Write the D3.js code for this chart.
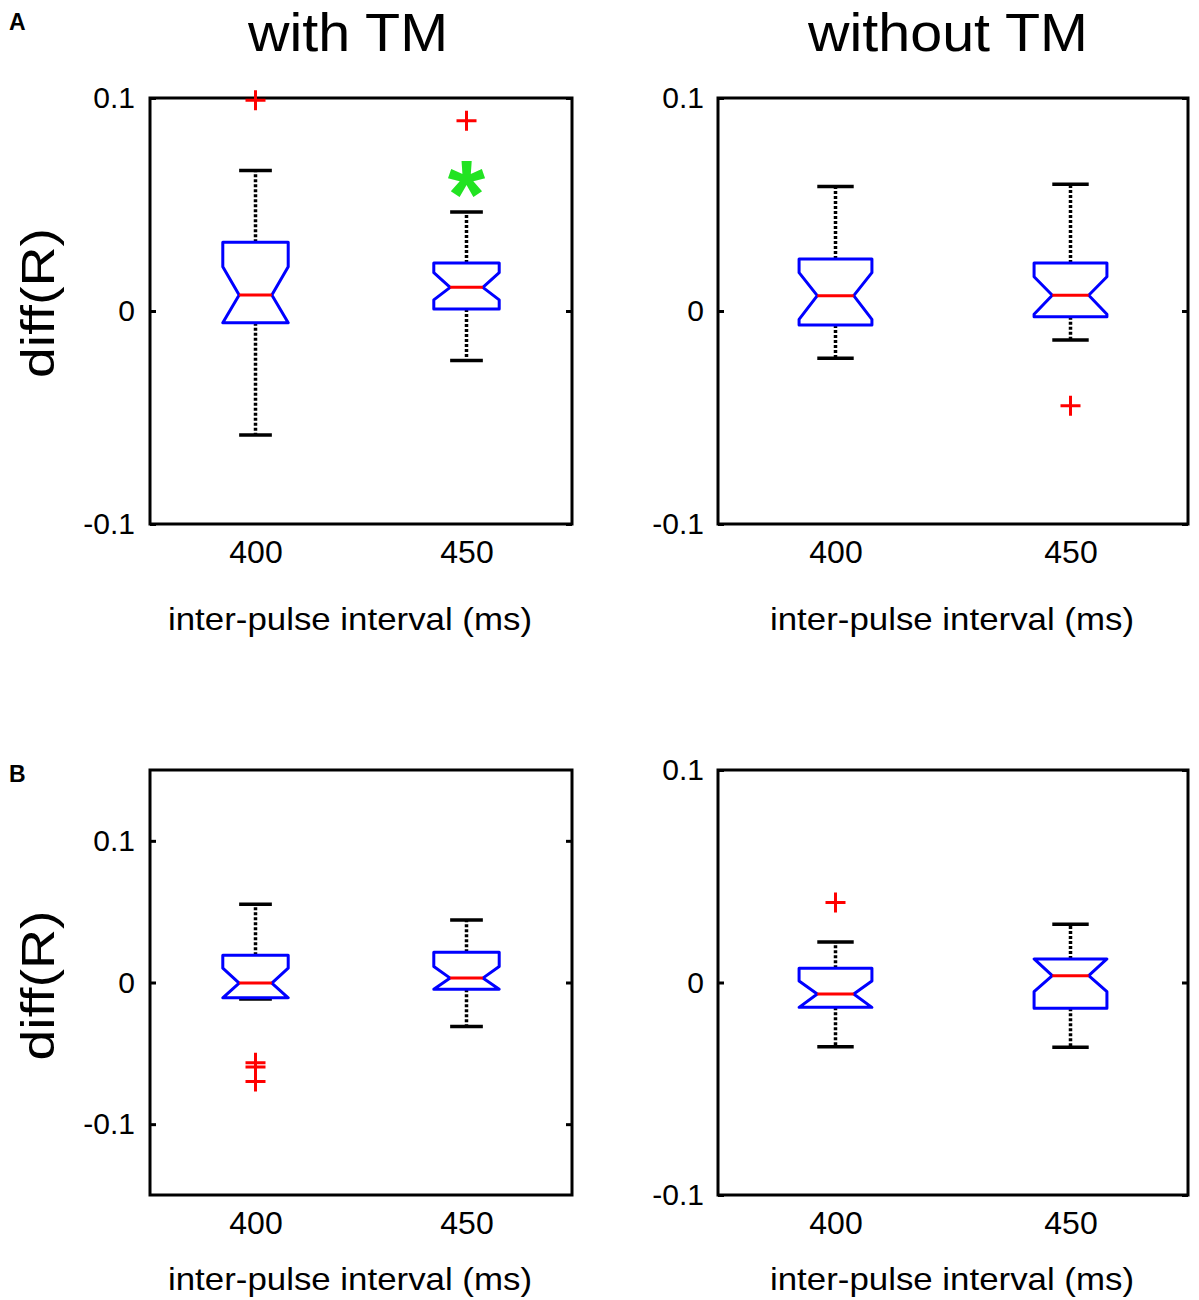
<!DOCTYPE html>
<html>
<head>
<meta charset="utf-8">
<script src="https://cdn.jsdelivr.net/npm/d3@7"></script>
<style>
  body { margin: 0; background: #fff; }
  svg { font-family: "Liberation Sans", Arial, sans-serif; }
</style>
</head>
<body>
<svg width="1199" height="1300"></svg>
<script>
// categories on the x axis
const intervals = ["400", "450"];
const yTicks = [-0.1, 0, 0.1];

// box statistics: whisker lo/hi, quartiles, notch, median, outliers
const boxesAWith = [
  { cat: "400", wlo: -0.0582, q1: -0.0055, nlo: -0.0055, med: 0.0075, nhi: 0.0208, q3: 0.0323, whi: 0.066, out: [0.099] },
  { cat: "450", wlo: -0.0232, q1: 0.0009, nlo: 0.0052, med: 0.0111, nhi: 0.018, q3: 0.0225, whi: 0.0465, out: [0.0893] }
];
const boxesAWithout = [
  { cat: "400", wlo: -0.0222, q1: -0.0066, nlo: -0.0039, med: 0.0072, nhi: 0.018, q3: 0.0244, whi: 0.0584, out: [] },
  { cat: "450", wlo: -0.0136, q1: -0.0027, nlo: -0.0015, med: 0.0074, nhi: 0.0161, q3: 0.0225, whi: 0.0595, out: [-0.0445] }
];
const boxesBWith = [
  { cat: "400", wlo: -0.0117, q1: -0.0108, nlo: -0.0108, med: -0.0004, nhi: 0.0101, q3: 0.0193, whi: 0.0552, out: [-0.0567, -0.0596, -0.0699] },
  { cat: "450", wlo: -0.031, q1: -0.0047, nlo: -0.0047, med: 0.0031, nhi: 0.0113, q3: 0.0214, whi: 0.0442, out: [] }
];
const boxesBWithout = [
  { cat: "400", wlo: -0.0302, q1: -0.0117, nlo: -0.0117, med: -0.0054, nhi: 0.0007, q3: 0.0067, whi: 0.0191, out: [0.0376] },
  { cat: "450", wlo: -0.0305, q1: -0.0121, nlo: -0.0043, med: 0.0032, nhi: 0.0111, q3: 0.0111, whi: 0.0274, out: [] }
];
// significance marker (green star) in panel A, 450 ms
const starsAWith = [{ cat: "450", value: 0.063 }];

const svg = d3.select("svg");

const panels = [
  { boxes: boxesAWith, stars: starsAWith, left: 150, right: 572, top: 98, bottom: 524, domain: [-0.1, 0.1],
    title: "with TM", titleX: 348, ylabel: true, labelX: 350, labelGap: 106, tickPad: 15 },
  { boxes: boxesAWithout, stars: [], left: 718, right: 1188, top: 98, bottom: 524, domain: [-0.1, 0.1],
    title: "without TM", titleX: 948, ylabel: false, labelX: 952, labelGap: 106, tickPad: 14 },
  { boxes: boxesBWith, stars: [], left: 150, right: 572, top: 770, bottom: 1195, domain: [-0.15, 0.15],
    title: null, ylabel: true, labelX: 350, labelGap: 95, tickPad: 15 },
  { boxes: boxesBWithout, stars: [], left: 718, right: 1188, top: 770, bottom: 1195, domain: [-0.1, 0.1],
    title: null, ylabel: false, labelX: 952, labelGap: 95, tickPad: 14 }
];

panels.forEach(p => {
  const w = p.right - p.left;
  const h = p.bottom - p.top;
  const g = svg.append("g").attr("transform", `translate(${p.left},${p.top})`);

  const x = d3.scalePoint().domain(intervals).range([0, w]).padding(0.5);
  const y = d3.scaleLinear().domain(p.domain).range([h, 0]);
  const bw = x.step() * 0.31;

  // y axis, ticks pointing inward
  const fmt = d => d === 0 ? "0" : String(d);
  const ya = g.append("g")
    .call(d3.axisLeft(y).tickValues(yTicks).tickSizeInner(-6).tickSizeOuter(0).tickPadding(p.tickPad).tickFormat(fmt));
  ya.select(".domain").remove();
  ya.selectAll("line").attr("stroke", "#000").attr("stroke-width", 3);
  ya.selectAll("text").attr("font-size", 30).attr("font-family", "Liberation Sans").attr("fill", "#000");

  const yr = g.append("g").attr("transform", `translate(${w},0)`)
    .call(d3.axisRight(y).tickValues(yTicks).tickSizeInner(-6).tickSizeOuter(0).tickFormat(""));
  yr.select(".domain").remove();
  yr.selectAll("line").attr("stroke", "#000").attr("stroke-width", 3);

  const xa = g.append("g").attr("transform", `translate(0,${h})`)
    .call(d3.axisBottom(x).tickSize(0).tickPadding(16));
  xa.select(".domain").remove();
  xa.selectAll("text").attr("font-size", 32).attr("font-family", "Liberation Sans").attr("fill", "#000");

  // frame
  g.append("rect")
    .attr("width", w).attr("height", h)
    .attr("fill", "none").attr("stroke", "#000").attr("stroke-width", 3);

  // boxes
  const bx = g.selectAll(".box").data(p.boxes).enter().append("g").attr("class", "box");

  bx.each(function(d) {
    const b = d3.select(this);
    const c = x(d.cat);

    // dotted whiskers
    [[d.q3, d.whi], [d.q1, d.wlo]].forEach(([a, e]) => {
      b.append("line")
        .attr("x1", c).attr("x2", c).attr("y1", y(a)).attr("y2", y(e))
        .attr("stroke", "#000").attr("stroke-width", 3.5).attr("stroke-dasharray", "3,2");
      b.append("line")
        .attr("x1", c - bw / 4).attr("x2", c + bw / 4).attr("y1", y(e)).attr("y2", y(e))
        .attr("stroke", "#000").attr("stroke-width", 3.5);
    });

    // notched box outline
    const pts = [
      [c - bw / 2, y(d.q1)], [c - bw / 2, y(d.nlo)], [c - bw / 4, y(d.med)], [c - bw / 2, y(d.nhi)],
      [c - bw / 2, y(d.q3)], [c + bw / 2, y(d.q3)], [c + bw / 2, y(d.nhi)], [c + bw / 4, y(d.med)],
      [c + bw / 2, y(d.nlo)], [c + bw / 2, y(d.q1)]
    ];
    b.append("path")
      .attr("d", d3.line()(pts) + "Z")
      .attr("fill", "#fff").attr("stroke", "#0000ff").attr("stroke-width", 3)
      .attr("stroke-linejoin", "round");

    b.append("line")
      .attr("x1", c - bw / 4).attr("x2", c + bw / 4).attr("y1", y(d.med)).attr("y2", y(d.med))
      .attr("stroke", "#ff0000").attr("stroke-width", 3);

    // outliers
    b.selectAll(".out").data(d.out).enter().append("path")
      .attr("class", "out")
      .attr("transform", v => `translate(${c},${y(v)})`)
      .attr("d", "M-10,0H10M0,-10V10")
      .attr("stroke", "#ff0000").attr("stroke-width", 3);
  });

  g.selectAll(".star").data(p.stars).enter().append("text")
    .attr("class", "star")
    .attr("x", d => x(d.cat)).attr("y", d => y(d.value) + 50)
    .attr("text-anchor", "middle")
    .attr("font-size", 96).attr("font-weight", "bold")
    .attr("fill", "#22e322")
    .text("*");

  // x label
  svg.append("text")
    .attr("x", p.labelX).attr("y", p.bottom + p.labelGap)
    .attr("text-anchor", "middle")
    .attr("font-size", 32)
    .attr("textLength", 364).attr("lengthAdjust", "spacingAndGlyphs")
    .text("inter-pulse interval (ms)");

  if (p.title) {
    svg.append("text")
      .attr("x", p.titleX).attr("y", 51)
      .attr("text-anchor", "middle")
      .attr("font-size", 53)
      .attr("textLength", p.title === "with TM" ? 200 : 280).attr("lengthAdjust", "spacingAndGlyphs")
      .text(p.title);
  }

  if (p.ylabel) {
    svg.append("text")
      .attr("transform", `translate(54,${(p.top + p.bottom) / 2 + (p.top > 500 ? 3 : -8)}) rotate(-90)`)
      .attr("text-anchor", "middle")
      .attr("font-size", 47)
      .attr("textLength", 150).attr("lengthAdjust", "spacingAndGlyphs")
      .text("diff(R)");
  }
});

// panel letters
svg.selectAll(".panel-letter")
  .data([{ t: "A", y: 30 }, { t: "B", y: 782 }])
  .enter().append("text")
  .attr("class", "panel-letter")
  .attr("x", 9).attr("y", d => d.y)
  .attr("font-size", 23).attr("font-weight", "bold")
  .text(d => d.t);
</script>
</body>
</html>
